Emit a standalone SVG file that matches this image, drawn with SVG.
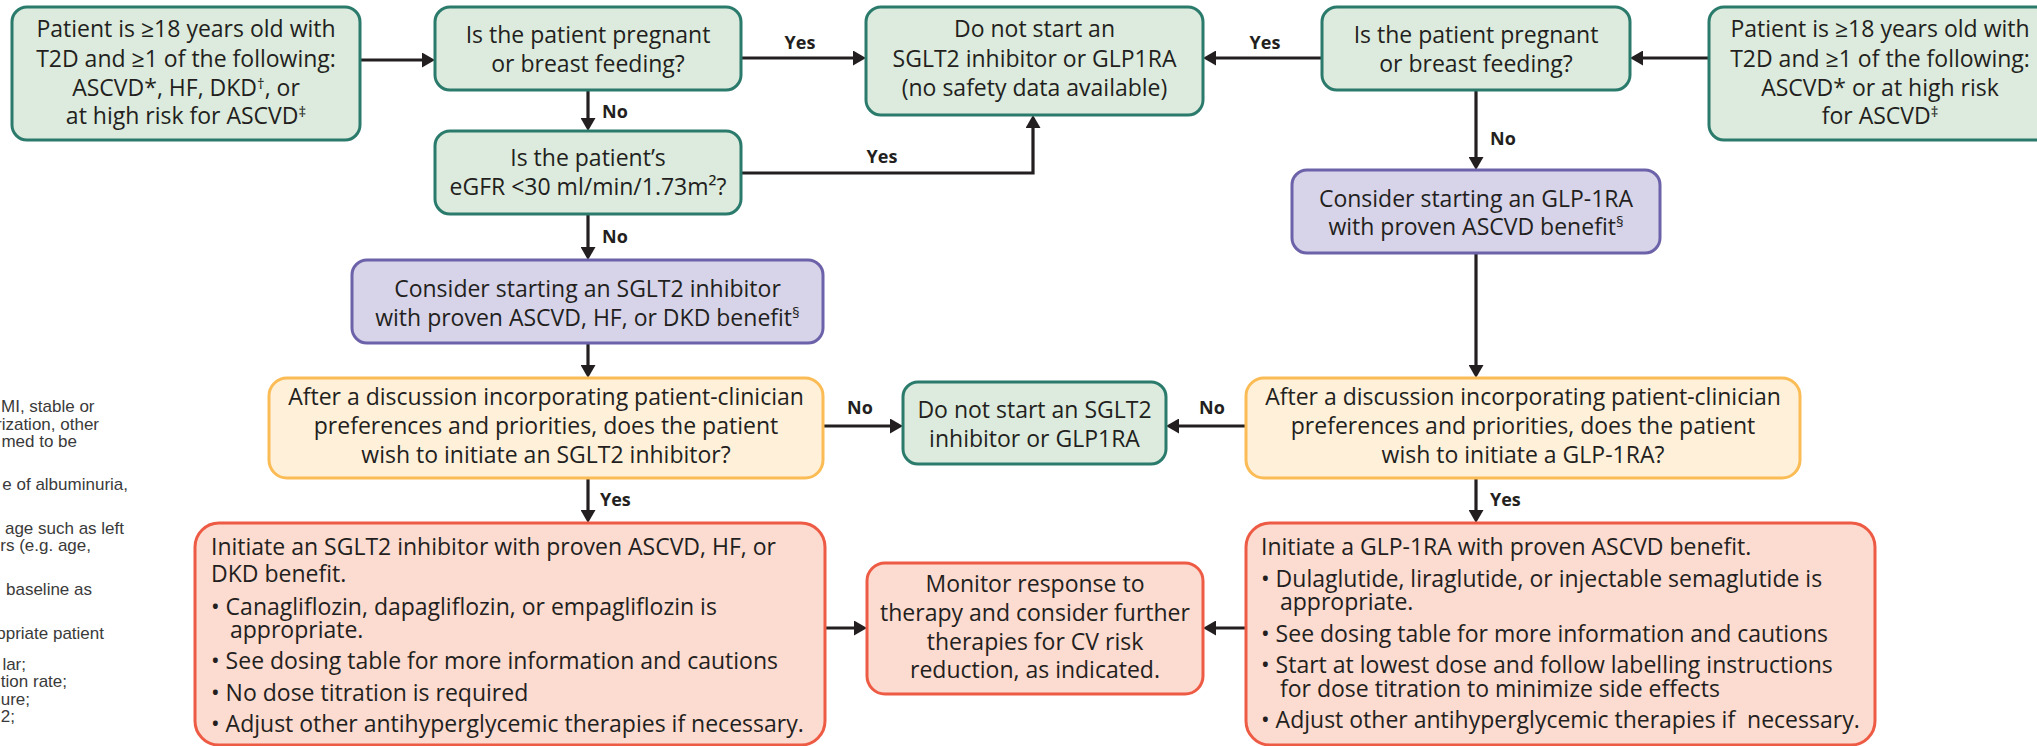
<svg xmlns="http://www.w3.org/2000/svg" width="2037" height="746" viewBox="0 0 2037 746">
<style>
.t{font-family:'Open Sans','Liberation Sans',sans-serif;font-size:23px;fill:#231f20}
.c{text-anchor:middle}
.sup{font-size:15px}
.lbl{font-family:'Open Sans','Liberation Sans',sans-serif;font-weight:700;font-size:18px;fill:#231f20}
.fn{font-family:'Liberation Sans',Arial,sans-serif;font-size:17px;fill:#3a3a3a;text-anchor:end}
.fs{text-anchor:start}
.green{fill:#dcebdd;stroke:#2b7b6d;stroke-width:3}
.purple{fill:#d7d4e9;stroke:#6b62a9;stroke-width:3}
.yellow{fill:#fff0da;stroke:#fbbc55;stroke-width:3}
.red{fill:#fcdbd0;stroke:#ee5b45;stroke-width:3}
.ln{fill:none;stroke:#231f20;stroke-width:3.2;marker-end:url(#ah)}
</style>
<defs>
<marker id="ah" markerUnits="userSpaceOnUse" markerWidth="14" markerHeight="15" refX="9" refY="7.5" orient="auto">
<path d="M0,0 L13,7.5 L0,15 z" fill="#231f20"/>
</marker>
</defs>
<rect width="2037" height="746" fill="#ffffff"/>

<g id="footnotes">
<text class="fn fs" x="1" y="412">MI, stable or</text>
<text class="fn" x="99" y="430">rization, other</text>
<text class="fn" x="77" y="447">med to be</text>
<text class="fn" x="128" y="490">e of albuminuria,</text>
<text class="fn" x="124" y="534">age such as left</text>
<text class="fn" x="91" y="551">rs (e.g. age,</text>
<text class="fn" x="92" y="595">baseline as</text>
<text class="fn" x="104" y="639">ppriate patient</text>
<text class="fn" x="26" y="670">lar;</text>
<text class="fn" x="67" y="687">tion rate;</text>
<text class="fn" x="30" y="705">lure;</text>
<text class="fn" x="15" y="722">2;</text>
</g>

<g id="connectors">
<path class="ln" d="M360,60 H431"/>
<path class="ln" d="M741,58 H862"/>
<path class="ln" d="M1322,58 H1207"/>
<path class="ln" d="M1709,58 H1634"/>
<path class="ln" d="M588,90 V127"/>
<path class="ln" d="M741,173 H1033 V119"/>
<path class="ln" d="M588,214 V256"/>
<path class="ln" d="M1476,90 V166"/>
<path class="ln" d="M588,343 V374"/>
<path class="ln" d="M1476,253 V374"/>
<path class="ln" d="M823,426 H899"/>
<path class="ln" d="M1246,426 H1170"/>
<path class="ln" d="M588,478 V519"/>
<path class="ln" d="M1476,478 V519"/>
<path class="ln" d="M825,628 H863"/>
<path class="ln" d="M1246,628 H1207"/>
<text class="lbl c" x="800" y="49">Yes</text>
<text class="lbl c" x="1265" y="49">Yes</text>
<text class="lbl" x="602" y="118">No</text>
<text class="lbl c" x="882" y="163">Yes</text>
<text class="lbl" x="602" y="243">No</text>
<text class="lbl" x="1490" y="145">No</text>
<text class="lbl c" x="860" y="414">No</text>
<text class="lbl c" x="1212" y="414">No</text>
<text class="lbl" x="600" y="506">Yes</text>
<text class="lbl" x="1490" y="506">Yes</text>
</g>

<g id="n-patient-left">
<rect class="green" x="12" y="7" width="348" height="133" rx="15"/>
<text class="t c" x="186" y="37">Patient is ≥18 years old with</text>
<text class="t c" x="186" y="67">T2D and ≥1 of the following:</text>
<text class="t c" x="186" y="96">ASCVD*, HF, DKD<tspan class="sup" dy="-7">†</tspan><tspan dy="7">, or</tspan></text>
<text class="t c" x="186" y="124">at high risk for ASCVD<tspan class="sup" dy="-7">‡</tspan></text>
</g>

<g id="n-pregnant-left">
<rect class="green" x="435" y="7" width="306" height="83" rx="15"/>
<text class="t c" x="588" y="43">Is the patient pregnant</text>
<text class="t c" x="588" y="72">or breast feeding?</text>
</g>

<g id="n-donotstart-top">
<rect class="green" x="866" y="7" width="337" height="108" rx="15"/>
<text class="t c" x="1034.5" y="37">Do not start an</text>
<text class="t c" x="1034.5" y="67">SGLT2 inhibitor or GLP1RA</text>
<text class="t c" x="1034.5" y="96">(no safety data available)</text>
</g>

<g id="n-pregnant-right">
<rect class="green" x="1322" y="7" width="308" height="83" rx="15"/>
<text class="t c" x="1476" y="43">Is the patient pregnant</text>
<text class="t c" x="1476" y="72">or breast feeding?</text>
</g>

<g id="n-patient-right">
<rect class="green" x="1709" y="7" width="345" height="133" rx="15"/>
<text class="t c" x="1880" y="37">Patient is ≥18 years old with</text>
<text class="t c" x="1880" y="67">T2D and ≥1 of the following:</text>
<text class="t c" x="1880" y="96">ASCVD* or at high risk</text>
<text class="t c" x="1880" y="124">for ASCVD<tspan class="sup" dy="-7">‡</tspan></text>
</g>

<g id="n-egfr">
<rect class="green" x="435" y="131" width="306" height="83" rx="15"/>
<text class="t c" x="588" y="166">Is the patient’s</text>
<text class="t c" x="588" y="195">eGFR &lt;30 ml/min/1.73m²?</text>
</g>

<g id="n-consider-glp">
<rect class="purple" x="1292" y="170" width="368" height="83" rx="15"/>
<text class="t c" x="1476" y="207">Consider starting an GLP-1RA</text>
<text class="t c" x="1476" y="235">with proven ASCVD benefit<tspan class="sup" dy="-8">§</tspan></text>
</g>

<g id="n-consider-sglt2">
<rect class="purple" x="352" y="260" width="471" height="83" rx="15"/>
<text class="t c" x="587.5" y="297">Consider starting an SGLT2 inhibitor</text>
<text class="t c" x="587.5" y="326">with proven ASCVD, HF, or DKD benefit<tspan class="sup" dy="-8">§</tspan></text>
</g>

<g id="n-discuss-sglt2">
<rect class="yellow" x="269" y="378" width="554" height="100" rx="18"/>
<text class="t c" x="546" y="405">After a discussion incorporating patient-clinician</text>
<text class="t c" x="546" y="434">preferences and priorities, does the patient</text>
<text class="t c" x="546" y="463">wish to initiate an SGLT2 inhibitor?</text>
</g>

<g id="n-donotstart-mid">
<rect class="green" x="903" y="382" width="263" height="82" rx="15"/>
<text class="t c" x="1034.5" y="418">Do not start an SGLT2</text>
<text class="t c" x="1034.5" y="447">inhibitor or GLP1RA</text>
</g>

<g id="n-discuss-glp">
<rect class="yellow" x="1246" y="378" width="554" height="100" rx="18"/>
<text class="t c" x="1523" y="405">After a discussion incorporating patient-clinician</text>
<text class="t c" x="1523" y="434">preferences and priorities, does the patient</text>
<text class="t c" x="1523" y="463">wish to initiate a GLP-1RA?</text>
</g>

<g id="n-initiate-sglt2">
<rect class="red" x="195" y="523" width="630" height="222" rx="24"/>
<text class="t" x="211" y="555">Initiate an SGLT2 inhibitor with proven ASCVD, HF, or<tspan x="211" y="582">DKD benefit.</tspan></text>
<text class="t" x="211" y="615">• Canagliflozin, dapagliflozin, or empagliflozin is<tspan x="230" y="638">appropriate.</tspan></text>
<text class="t" x="211" y="669">• See dosing table for more information and cautions</text>
<text class="t" x="211" y="701">• No dose titration is required</text>
<text class="t" x="211" y="732">• Adjust other antihyperglycemic therapies if necessary.</text>
</g>

<g id="n-monitor">
<rect class="red" x="867" y="563" width="336" height="131" rx="18"/>
<text class="t c" x="1035" y="592">Monitor response to</text>
<text class="t c" x="1035" y="621">therapy and consider further</text>
<text class="t c" x="1035" y="650">therapies for CV risk</text>
<text class="t c" x="1035" y="678">reduction, as indicated.</text>
</g>

<g id="n-initiate-glp">
<rect class="red" x="1246" y="523" width="629" height="222" rx="24"/>
<text class="t" x="1261" y="555">Initiate a GLP-1RA with proven ASCVD benefit.</text>
<text class="t" x="1261" y="587">• Dulaglutide, liraglutide, or injectable semaglutide is<tspan x="1280" y="610">appropriate.</tspan></text>
<text class="t" x="1261" y="642">• See dosing table for more information and cautions</text>
<text class="t" x="1261" y="673">• Start at lowest dose and follow labelling instructions<tspan x="1280" y="697">for dose titration to minimize side effects</tspan></text>
<text class="t" x="1261" y="728">• Adjust other antihyperglycemic therapies if &#160;necessary.</text>
</g>
</svg>
